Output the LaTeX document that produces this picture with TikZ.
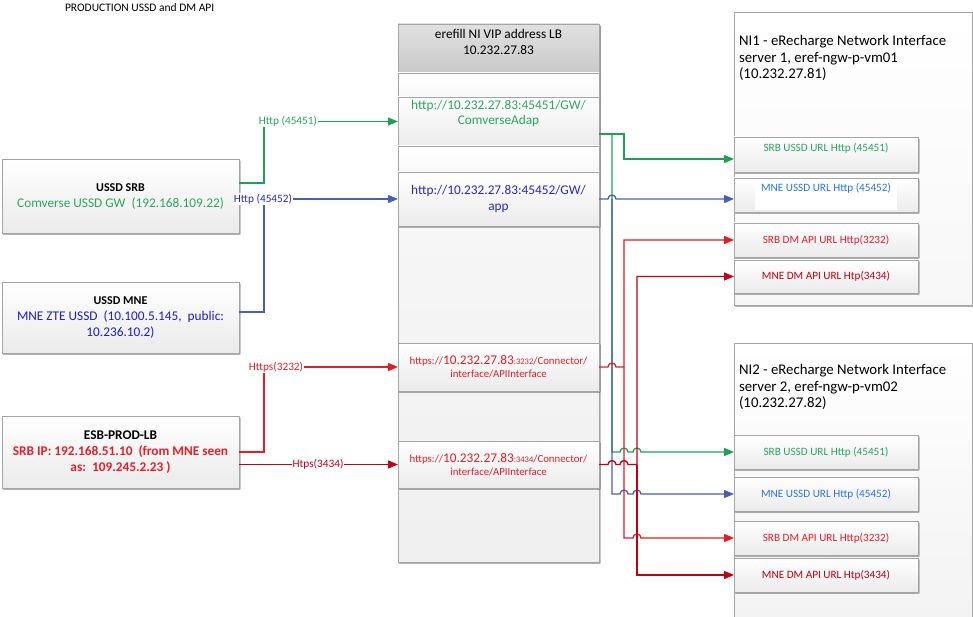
\documentclass[tikz,border=0pt]{standalone}
\usepackage{fontspec}
\setmainfont{Carlito}
\usetikzlibrary{arrows.meta,calc,shadows}

\definecolor{grnline}{RGB}{32,160,84}
\definecolor{grntext}{RGB}{40,168,92}
\definecolor{blueline}{RGB}{72,96,176}
\definecolor{bluelbl}{RGB}{40,40,200}
\definecolor{bluetext}{RGB}{28,28,215}
\definecolor{skyblue}{RGB}{40,118,230}
\definecolor{redline}{RGB}{228,28,36}
\definecolor{darkred}{RGB}{196,0,16}
\definecolor{redtext}{RGB}{232,30,40}
\definecolor{boxedge}{RGB}{165,165,165}

\newcommand\szTitle{\fontsize{11.5}{13}\selectfont}
\newcommand\szBox{\fontsize{13.3}{16}\selectfont}
\newcommand\szHead{\fontsize{12}{16}\selectfont\bfseries}
\newcommand\szNI{\fontsize{14.8}{16.5}\selectfont}
\newcommand\szLbl{\fontsize{11.3}{13}\selectfont}
\newcommand\szUrl{\fontsize{11.2}{13}\selectfont}
\newcommand\szCell{\fontsize{13.3}{15.5}\selectfont}
\newcommand\szApi{\fontsize{10.8}{13}\selectfont}

\begin{document}
\begin{tikzpicture}[x=1pt,y=-1pt,
  every node/.style={inner sep=0pt, outer sep=0pt},
  box/.style={draw=boxedge, line width=0.6pt, top color=white, bottom color=black!8,
    drop shadow={shadow xshift=1.3pt, shadow yshift=-1.6pt, opacity=0.22,
      top color=black, bottom color=black}},
  cell/.style={box, minimum width=201pt, anchor=north west, align=center},
  sub/.style={box, minimum width=184pt, anchor=north west, font=\szUrl},
  side/.style={box, minimum width=237pt, anchor=north west, align=center, font=\szBox},
  conn/.style={line width=1.3pt},
  arr/.style={conn, -{Triangle[length=10pt,width=8pt]}},
  lbl/.style={fill=white, inner sep=0.6pt, font=\szLbl},
]
\useasboundingbox (0,0) rectangle (973,617);

% title
\node[anchor=west, font=\szTitle] (title) at (65,8) {PRODUCTION USSD and DM API};

% source systems
\node[side, minimum height=74pt] (srb) at (2,159)
  {{\szHead USSD SRB}\\
   \textcolor{grntext}{Comverse USSD GW\ \ (192.168.109.22)}};
\node[side, minimum height=71pt] (mne) at (2,282)
  {{\szHead USSD MNE}\\
   \textcolor{bluetext}{MNE ZTE USSD\ \ (10.100.5.145,\ \ public:}\\
   \textcolor{bluetext}{10.236.10.2)}};
\node[side, minimum height=72pt, font=\fontsize{13.3}{16}\selectfont\bfseries] (esb) at (2,416)
  {ESB-PROD-LB\\
   \textcolor{redtext}{SRB IP: 192.168.51.10\ \ (from MNE seen}\\
   \textcolor{redtext}{as:\ \ 109.245.2.23 )}};

% load balancer column
\node[box, top color=black!2, bottom color=black!6, minimum width=201pt, minimum height=538pt,
  anchor=north west] (lb) at (398,24) {};
\node[cell, minimum height=49pt, top color=black!12, bottom color=black!21] (hd) at (398,24) {};
\node[font=\szBox, align=center] (hdT) at (498.5,42) {erefill NI VIP address LB\\10.232.27.83};
\node[cell, minimum height=24pt, top color=white, bottom color=black!3] (r0) at (398,73) {};
\node[cell, minimum height=49pt] (cg) at (398,97) {};
\node[font=\szCell, align=center, text=grntext] (cgT) at (498.5,113.5)
  {http://10.232.27.83:45451/GW/\\ComverseAdap};
\node[cell, minimum height=26pt, top color=white, bottom color=black!3] (r1) at (398,146) {};
\node[cell, minimum height=54pt, font=\szCell, text=bluelbl] (cb) at (398,172)
  {http://10.232.27.83:45452/GW/\\app};
\node[cell, minimum height=48pt, font=\szApi, text=redtext] (cr1) at (398,343)
  {https://{\fontsize{13.3}{13}\selectfont 10.232.27.83}{\fontsize{8.5}{13}\selectfont :3232}/Connector/\\
   interface/APIInterface};
\node[cell, minimum height=47pt, font=\szApi, text=redtext] (cr2) at (398,441)
  {https://{\fontsize{13.3}{13}\selectfont 10.232.27.83}{\fontsize{8.5}{13}\selectfont :3434}/Connector/\\
   interface/APIInterface};

% network interface servers
\node[box, top color=white, bottom color=black!3, minimum width=238pt, minimum height=293pt,
  anchor=north west] (ni1) at (734,12) {};
\node[anchor=west, align=left, font=\szNI] (ni1T) at (739,58)
  {NI1 - eRecharge Network Interface\\server 1, eref-ngw-p-vm01\\(10.232.27.81)};
\node[box, top color=white, bottom color=black!5, minimum width=238pt, minimum height=285pt,
  anchor=north west] (ni2) at (734,343) {};
\node[anchor=west, align=left, font=\szNI] (ni2T) at (739,387)
  {NI2 - eRecharge Network Interface\\server 2, eref-ngw-p-vm02\\(10.232.27.82)};

\node[sub, minimum height=35pt] (n1a) at (734,137) {};
\node[font=\szUrl, text=grntext] (n1aT) at (826,148) {SRB USSD URL Http (45451)};
\node[sub, minimum height=34pt] (n1b) at (734,178) {};
\fill[white] (755,184) rectangle (897,210);
\node[font=\szUrl, text=skyblue] (n1bT) at (826,188) {MNE USSD URL Http (45452)};
\node[sub, minimum height=34pt, text=redtext] (n1c) at (734,223) {SRB DM API URL Http(3232)};
\node[sub, minimum height=33pt, text=darkred] (n1d) at (734,260) {MNE DM API URL Htp(3434)};

\node[sub, minimum height=34pt, text=grntext] (n2a) at (734,435) {SRB USSD URL Http (45451)};
\node[sub, minimum height=34pt, text=skyblue] (n2b) at (734,477) {MNE USSD URL Http (45452)};
\node[sub, minimum height=34pt, text=redtext] (n2c) at (734,521) {SRB DM API URL Http(3232)};
\node[sub, minimum height=34pt, text=darkred] (n2d) at (734,558) {MNE DM API URL Htp(3434)};

% bus lines
\coordinate (bL) at (264,0);
\coordinate (b1) at (612,0);
\coordinate (b2) at (624,0);
\coordinate (b3) at (637,0);
\coordinate (gs) at ($(cg.east)+(0,12.5)$);

% sources -> load balancer
\draw[arr, grnline] ([yshift=13pt]srb.east) -| (bL |- cg.west) -- (cg.west);
\draw[arr, blueline] ([yshift=5.5pt]mne.east) -| (bL |- cb.west) -- (cb.west);
\draw[arr, redline] (esb.east) -| (bL |- cr1.west) -- (cr1.west);
\draw[arr, darkred] (esb.east |- cr2.west) -- (cr2.west);

\node[lbl, text=grntext] (lg) at ($(bL |- cg.west)+(24,0)$) {Http (45451)};
\node[lbl, text=bluelbl] (lb2) at ($(bL |- cb.west)+(-1,0)$) {Http (45452)};
\node[lbl, text=redtext] (lr1) at ($(bL |- cr1.west)+(12,0)$) {Https(3232)};
\node[lbl, text=darkred] (lr2) at ($(esb.east |- cr2.west)+(79,0)$) {Htps(3434)};

% load balancer -> NI servers
\draw[arr, grnline] (gs) -| ($(b2 |- n1a.west)+(0,4.5)$) -- ($(n1a.west)+(0,4.5)$);
\draw[arr, grnline] (b1 |- gs) -- (b1 |- n2a.west)
  -- ([xshift=-4pt]b2 |- n2a.west) arc[start angle=180, end angle=0, radius=4pt]
  -- ([xshift=-4pt]b3 |- n2a.west) arc[start angle=180, end angle=0, radius=4pt]
  -- (n2a.west);

\draw[arr, blueline] (cb.east)
  -- ([xshift=-4pt]b1 |- cb.east) arc[start angle=180, end angle=0, radius=4pt]
  -- (n1b.west |- cb.east);
\draw[arr, blueline] (b1 |- cb.east) -- (b1 |- n2b.west)
  -- ([xshift=-4pt]b2 |- n2b.west) arc[start angle=180, end angle=0, radius=4pt]
  -- ([xshift=-4pt]b3 |- n2b.west) arc[start angle=180, end angle=0, radius=4pt]
  -- (n2b.west);

\draw[arr, redline] (cr1.east)
  -- ([xshift=-4pt]b1 |- cr1.east) arc[start angle=180, end angle=0, radius=4pt]
  -| (b2 |- n1c.west) -- (n1c.west);
\draw[arr, redline] (b2 |- cr1.east) -- (b2 |- n2c.west)
  -- ([xshift=-4pt]b3 |- n2c.west) arc[start angle=180, end angle=0, radius=4pt]
  -- (n2c.west);

\draw[arr, darkred] (cr2.east)
  -- ([xshift=-4pt]b1 |- cr2.east) arc[start angle=180, end angle=0, radius=4pt]
  -- ([xshift=-4pt]b2 |- cr2.east) arc[start angle=180, end angle=0, radius=4pt]
  -| (b3 |- n1d.west) -- (n1d.west);
\draw[arr, darkred] (b3 |- cr2.east) -- (b3 |- n2d.west) -- (n2d.west);
\end{tikzpicture}
\end{document}
